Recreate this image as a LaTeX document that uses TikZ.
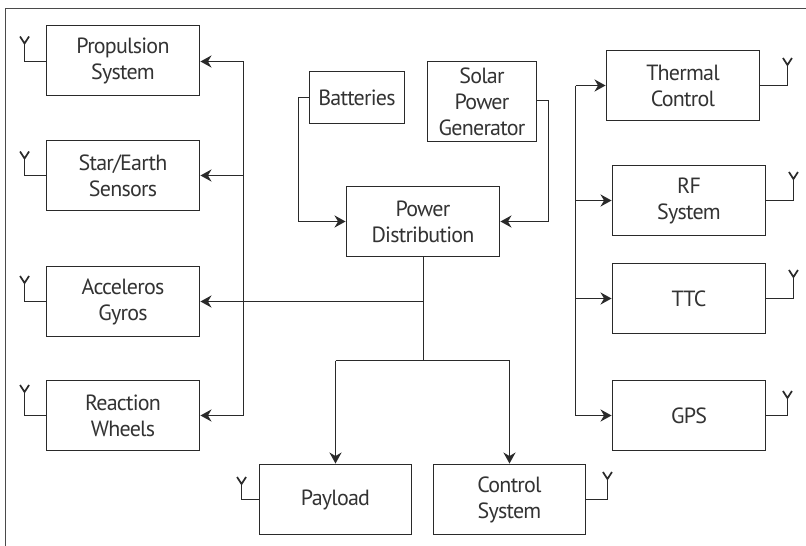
\documentclass[tikz,border=0pt]{standalone}
\usepackage{fontspec}
\setmainfont[LetterSpace=-3.5]{PT Sans}
\usetikzlibrary{arrows.meta,calc}
\definecolor{ink}{HTML}{2A2A2A}
\definecolor{lettering}{HTML}{333333}
\tikzset{
  box/.style={draw=ink,line width=1.9pt,fill=white,inner sep=0pt,align=center,text=lettering,
    minimum width=153pt,minimum height=70pt,font=\fontsize{22}{26}\selectfont},
  wire/.style={draw=ink,line width=1.9pt},
  feed/.style={wire,-{Stealth[length=11pt,width=12pt,inset=3.5pt]}},
  aerial/.style={wire,line width=1.7pt,line cap=butt},
  frameline/.style={draw=ink!85,line width=1.9pt}
}
\newcommand{\aerialon}[5]{%
  \coordinate (#1a) at ($(#1.#2)+(#3,#4)$);
  \coordinate (#1b) at ($(#1a)+(0,-#5)$);
  \draw[aerial] (#1.#2 |- #1a) -- (#1a) -- (#1b);
  \draw[aerial] ($(#1b)+(-4.5,-7)$) -- ($(#1b)+(0,0)$) -- ($(#1b)+(4.5,-7)$);
}
\begin{document}
\begin{tikzpicture}[x=1pt,y=-1pt]
\useasboundingbox (0,0) rectangle (806,546);
\fill[white] (0,0) rectangle (806,546);
\coordinate (fa) at (5.5,546); \coordinate (fb) at (5.5,8.5); \coordinate (fc) at (806,8.5);
\draw[frameline] (fa) -- (fb) -- (fc);

% left column
\node[box] (prop) at (123,60.5) {Propulsion\\System};
\node[box] (star) at (123,175.5) {Star/Earth\\Sensors};
\node[box] (acc) at (123,301.5) {Acceleros\\Gyros};
\node[box] (rw) at (123,415.5) {Reaction\\Wheels};
% right column
\node[box] (therm) at (683,85.5) {Thermal\\Control};
\node[box] (rf) at (689,200.5) {RF\\System};
\node[box] (ttc) at (689,298.5) {TTC};
\node[box] (gps) at (689,415.5) {GPS};
% bottom
\node[box,minimum width=152pt] (pay) at (335.5,499.5) {Payload};
\node[box,minimum width=152pt] (ctl) at (509.5,499.5) {Control\\System};
% centre
\node[box,minimum width=95pt,minimum height=52pt] (bat) at (357,97.5) {Batteries};
\node[box,minimum width=109pt,minimum height=80pt] (sol) at (482,101.5) {Solar\\Power\\Generator};
\node[box] (pd) at (423,221.5) {Power\\Distribution};

% junctions
\coordinate (lt) at (243.5,61.5);
\coordinate (lb) at (243.5,415.5);
\coordinate (rt) at (575.5,85.5);
\coordinate (rb) at (575.5,415.5);
\coordinate (hub) at (423.5,360.5);
\coordinate (hubl) at (pay.north |- hub);
\coordinate (hubr) at (ctl.north |- hub);

% left bus
\draw[wire] (lt) -- (lb);
\draw[feed] (lt) -- (prop.east |- lt);
\draw[feed] (lt |- star.east) -- (star.east);
\draw[feed] (lb) -- (rw.east);
% power lines
\draw[wire] (pd.south -| hub) -- (hub);
\draw[feed] (hub |- acc.east) -- (acc.east);
\draw[wire] (hubl) -- (hubr);
\draw[feed] (hubl) -- (pay.north);
\draw[feed] (hubr) -- (ctl.north);
% right bus
\draw[wire] (rt) -- (rb);
\draw[feed] (rt) -- (therm.west);
\draw[feed] (rt |- rf.west) -- (rf.west);
\draw[feed] (rt |- ttc.west) -- (ttc.west);
\draw[feed] (rb) -- (gps.west);
% sources
\coordinate (bc) at (298.5,97.5);
\coordinate (sc) at (548.5,100.5);
\draw[feed] (bat.west) -- (bc) |- (pd.west);
\draw[feed] (sol.east |- sc) -- (sc) |- (pd.east);

% aerials
\aerialon{prop}{west}{-21}{1}{18}
\aerialon{star}{west}{-21}{0}{17}
\aerialon{acc}{west}{-21}{0}{18.5}
\aerialon{rw}{west}{-21}{0}{23.5}
\aerialon{therm}{east}{27}{0}{20.5}
\aerialon{rf}{east}{27}{0}{21.5}
\aerialon{ttc}{east}{27}{0}{21.5}
\aerialon{gps}{east}{21}{0}{17.5}
\aerialon{pay}{west}{-17}{0}{15.5}
\aerialon{ctl}{east}{21}{0}{20.5}
\end{tikzpicture}
\end{document}
